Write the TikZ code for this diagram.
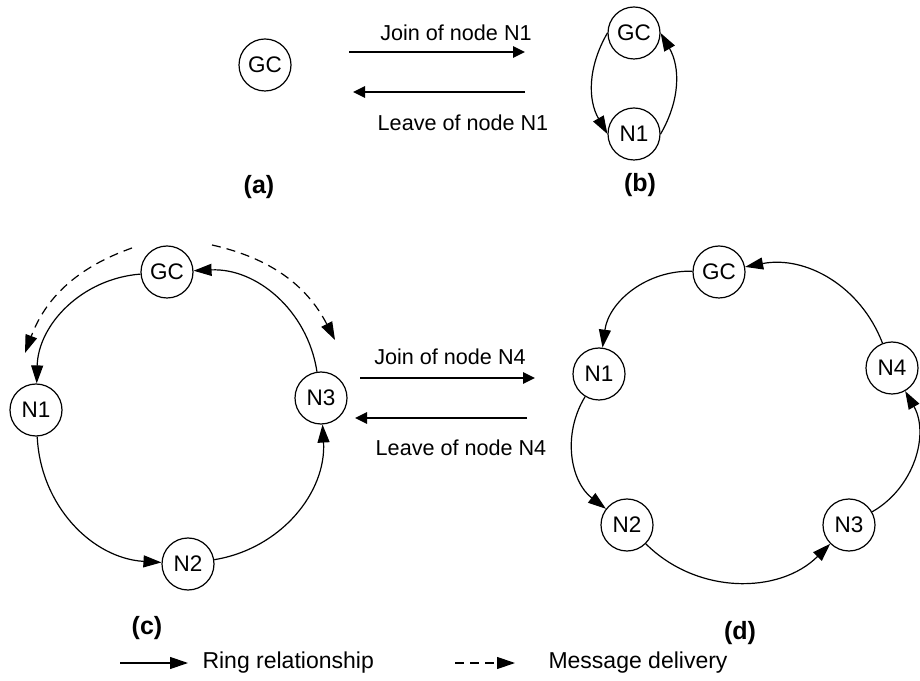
\documentclass[tikz,border=0pt]{standalone}
\usepackage{fontspec}
\setmainfont{Liberation Sans}
\usetikzlibrary{arrows.meta}

\tikzset{
  peer/.style={circle,draw=black,line width=1.2pt,minimum size=52pt,inner sep=0pt,
               font=\fontsize{22.5}{27}\selectfont},
  ring/.style={line width=1.2pt,-{Triangle[length=18pt,width=12pt]}},
  msg/.style={ring,dash pattern=on 9pt off 6pt},
  move/.style={line width=2.6pt,-{Triangle[length=12pt,width=11pt]}},
  lbl/.style={font=\fontsize{21.6}{26}\selectfont},
  keylbl/.style={font=\fontsize{23}{28}\selectfont},
  partlbl/.style={font=\fontsize{25}{30}\selectfont\bfseries},
}

\begin{document}
\begin{tikzpicture}[x=1pt,y=1pt]
            \useasboundingbox (0,0) rectangle (920,680);

            % Place the nodes of (a) and (b)
            \node[peer] (a0) at (265,615) {GC};
            \node[partlbl] (la) at (259,493) {(a)};
            \node[peer] (b0) at (634,647) {GC};
            \node[peer] (b1) at (634,546) {N1};
            \node[partlbl] (lb) at (640,495) {(b)};

            % Join and leave of N1
            \coordinate (j1s) at (349,628);
            \coordinate (j1e) at (525,628);
            \coordinate (l1s) at (525,588);
            \coordinate (l1e) at (353,588);
            \node[lbl] (tj1) at (456,647) {Join of node N1};
            \node[lbl] (tl1) at (463,557) {Leave of node N1};
            \draw[move] (j1s) -- (j1e);
            \draw[move] (l1s) -- (l1e);

            % The two-node ring
            \draw[ring] (b0.west) to[bend right=30] (b1.west);
            \draw[ring] (b1.east) to[bend right=30] (b0.east);

            % Place the nodes of (c)
            \node[peer] (c0) at (167,408) {GC};
            \node[peer] (c1) at (36,270) {N1};
            \node[peer] (c2) at (188,116) {N2};
            \node[peer] (c3) at (321,282) {N3};
            \node[partlbl] (lc) at (147,52) {(c)};

            \draw[ring] (c0) to[bend right=42] (c1);
            \draw[ring] (c1) to[bend right=42] (c2);
            \draw[ring] (c2) to[bend right=42] (c3);
            \draw[ring] (c3) to[bend right=42] (c0);

            % Message delivery from GC
            \coordinate (m1s) at (132,432);
            \coordinate (m1e) at (25,327);
            \coordinate (m2s) at (212,435);
            \coordinate (m2e) at (335,340);
            \draw[msg] (m1s) to[bend right=25] (m1e);
            \draw[msg] (m2s) to[bend left=25] (m2e);

            % Join and leave of N4
            \coordinate (j4s) at (360,302);
            \coordinate (j4e) at (535,302);
            \coordinate (l4s) at (527,262);
            \coordinate (l4e) at (355,262);
            \node[lbl] (tj4) at (450,323) {Join of node N4};
            \node[lbl] (tl4) at (461,232) {Leave of node N4};
            \draw[move] (j4s) -- (j4e);
            \draw[move] (l4s) -- (l4e);

            % Place the nodes of (d)
            \node[peer] (d0) at (719,408) {GC};
            \node[peer] (d1) at (599,306) {N1};
            \node[peer] (d2) at (627,155) {N2};
            \node[peer] (d3) at (849,155) {N3};
            \node[peer] (d4) at (892,312) {N4};
            \node[partlbl] (ld) at (740,47) {(d)};

            \draw[ring] (d0) to[bend right=42] (d1);
            \draw[ring] (d1) to[bend right=42] (d2);
            \draw[ring] (d2) to[bend right=45] (d3);
            \draw[ring] (d3) to[bend right=45] (d4);
            \draw[ring] (d4) to[bend right=40] (d0);

            % The legend
            \coordinate (g1s) at (120,17);
            \coordinate (g1e) at (188,17);
            \coordinate (g2s) at (455,17);
            \coordinate (g2e) at (515,17);
            \draw[ring] (g1s) -- (g1e);
            \node[keylbl,anchor=west] (tg1) at (199,17) {Ring relationship};
            \draw[msg] (g2s) -- (g2e);
            \node[keylbl,anchor=west] (tg2) at (545,17) {Message delivery};
\end{tikzpicture}
\end{document}
